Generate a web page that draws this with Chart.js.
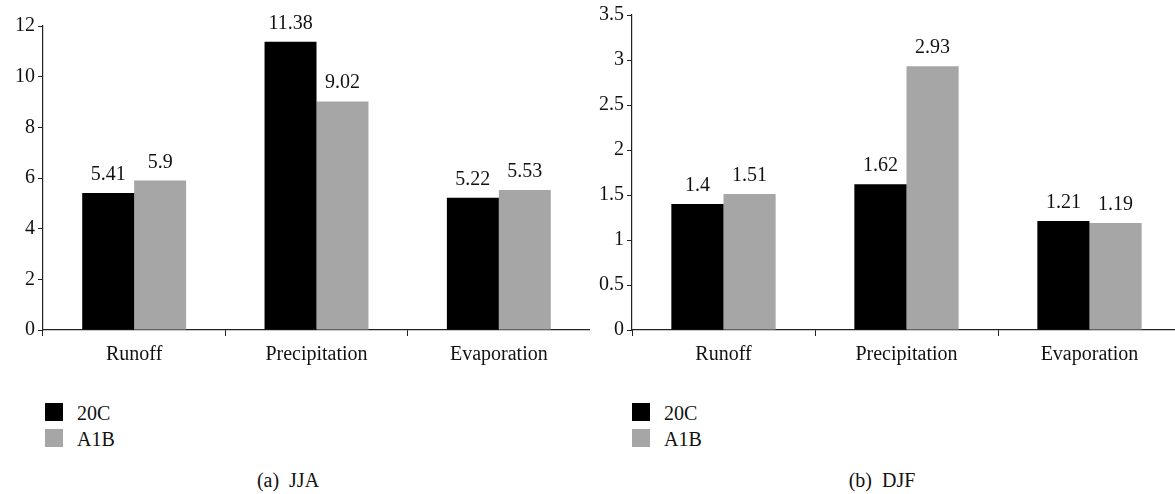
<!DOCTYPE html>
<html>
<head>
<meta charset="utf-8">
<script src="https://cdn.jsdelivr.net/npm/chart.js@4.4.0/dist/chart.umd.min.js"></script>
<style>
  html, body { margin: 0; padding: 0; background: #fff; overflow: hidden; width: 1175px; height: 494px; }
  .wrap { position: absolute; }
  .legend { position: absolute; font-family: "Liberation Serif", "DejaVu Serif", serif; font-size: 20px; color: #111; }
  .legend .item { position: absolute; white-space: nowrap; }
  .legend .sw { position: absolute; width: 18px; height: 18px; }
  .legend .lb { position: absolute; left: 32px; top: -1px; }
  .cap { position: absolute; font-family: "Liberation Serif", "DejaVu Serif", serif; font-size: 20px; color: #111; transform: translateX(-50%); white-space: nowrap; }
</style>
</head>
<body>
<div class="wrap" style="left:0;top:0;width:590px;height:380px;"><canvas id="c1"></canvas></div>
<div class="wrap" style="left:585px;top:0;width:596px;height:380px;"><canvas id="c2"></canvas></div>

<div class="legend" style="left:45px;top:403px;">
  <div class="item" style="top:0"><div class="sw" style="background:#000"></div><div class="lb">20C</div></div>
  <div class="item" style="top:26px"><div class="sw" style="background:#a6a6a6"></div><div class="lb">A1B</div></div>
</div>
<div class="legend" style="left:632px;top:403px;">
  <div class="item" style="top:0"><div class="sw" style="background:#000"></div><div class="lb">20C</div></div>
  <div class="item" style="top:26px"><div class="sw" style="background:#a6a6a6"></div><div class="lb">A1B</div></div>
</div>
<div class="cap" style="left:288px;top:469px;">(a)&nbsp;&nbsp;JJA</div>
<div class="cap" style="left:882px;top:469px;">(b)&nbsp;&nbsp;DJF</div>

<script>
const categories = ["Runoff", "Precipitation", "Evaporation"];
const seriesNames = ["20C", "A1B"];
const jja20C = [5.41, 11.38, 5.22];
const jjaA1B = [5.9, 9.02, 5.53];
const djf20C = [1.4, 1.62, 1.21];
const djfA1B = [1.51, 2.93, 1.19];
const jjaTicks = [0, 2, 4, 6, 8, 10, 12];
const djfTicks = [0, 0.5, 1, 1.5, 2, 2.5, 3, 3.5];

const FONT = "Liberation Serif";
Chart.defaults.font.family = FONT;
Chart.defaults.font.size = 20;
Chart.defaults.color = "#111";

const valueLabels = {
  id: "valueLabels",
  afterDatasetsDraw(chart) {
    const ctx = chart.ctx;
    ctx.save();
    ctx.font = "20px " + FONT;
    ctx.fillStyle = "#111";
    ctx.textAlign = "center";
    ctx.textBaseline = "alphabetic";
    chart.data.datasets.forEach((ds, i) => {
      chart.getDatasetMeta(i).data.forEach((bar, j) => {
        ctx.fillText(String(ds.data[j]), bar.x, bar.y - 13);
      });
    });
    ctx.restore();
  }
};

function makeChart(id, d1, d2, ticks, max, yWidth, topPad) {
  return new Chart(document.getElementById(id), {
    type: "bar",
    data: {
      labels: categories,
      datasets: [
        { label: seriesNames[0], data: d1, backgroundColor: "#000" },
        { label: seriesNames[1], data: d2, backgroundColor: "#a6a6a6" }
      ]
    },
    options: {
      responsive: true,
      maintainAspectRatio: false,
      animation: false,
      layout: { padding: { top: topPad, left: 0, right: 0, bottom: 0 } },
      categoryPercentage: 0.57,
      barPercentage: 1,
      plugins: { legend: { display: false }, tooltip: { enabled: false } },
      scales: {
        x: {
          grid: { display: true, drawOnChartArea: false, offset: true, color: "#222", tickLength: 6, lineWidth: 1 },
          border: { display: true, color: "#222", width: 1.2 },
          ticks: { padding: 7, color: "#111", font: { size: 20 } },
          afterFit(s) { s.height = 50; }
        },
        y: {
          min: 0, max: max,
          afterBuildTicks(s) { s.ticks = ticks.map(v => ({ value: v })); },
          grid: { display: true, drawOnChartArea: false, color: "#222", tickLength: 5 },
          border: { display: true, color: "#222", width: 1.2 },
          ticks: { padding: 3, color: "#111", font: { size: 20 }, callback: v => String(v) },
          afterFit(s) { s.width = yWidth; }
        }
      }
    },
    plugins: [valueLabels]
  });
}

makeChart("c1", jja20C, jjaA1B, jjaTicks, 12, 43, 26);
makeChart("c2", djf20C, djfA1B, djfTicks, 3.5, 47, 12);
</script>
</body>
</html>
